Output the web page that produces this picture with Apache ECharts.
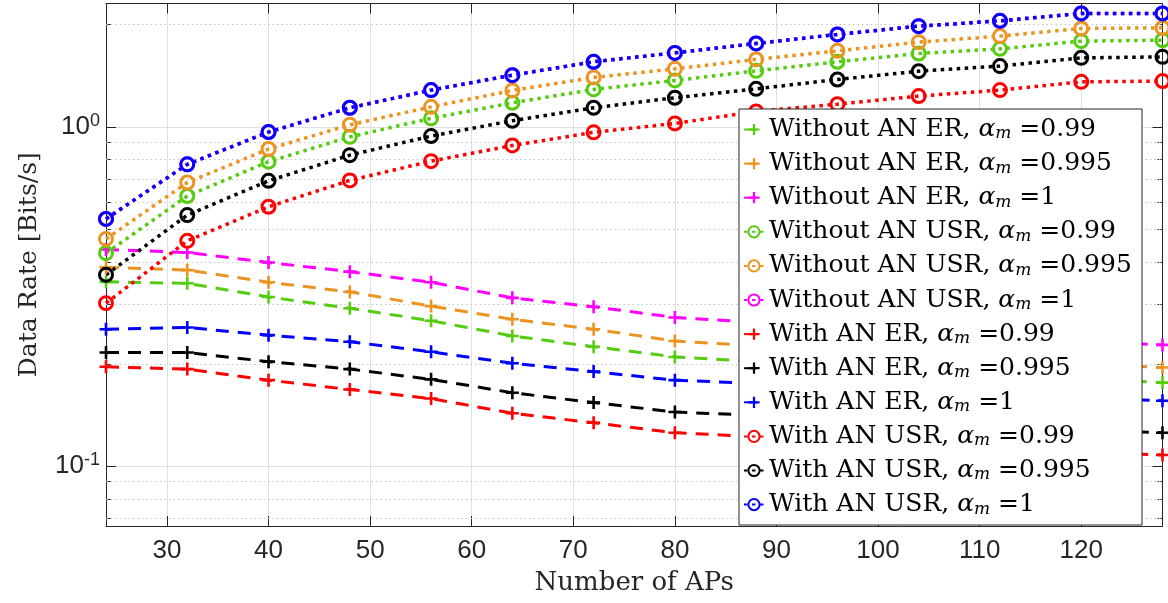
<!DOCTYPE html>
<html>
<head>
<meta charset="utf-8">
<script src="https://cdn.jsdelivr.net/npm/echarts@6/dist/echarts.min.js"></script>
<style>
html,body{margin:0;padding:0;background:#fff;}
#chart{width:1168px;height:603px;}
</style>
</head>
<body>
<div id="chart"></div>
<script>
// ---------------- data ----------------
const xAPs = [24, 32, 40, 48, 56, 64, 72, 80, 88, 96, 104, 112, 120, 128];
const xTicks = [30, 40, 50, 60, 70, 80, 90, 100, 110, 120];
const yMajorTicks = [0.1, 1];
const yMinorTicks = [0.07, 0.08, 0.09, 0.2, 0.3, 0.4, 0.5, 0.6, 0.7, 0.8, 0.9, 2];

// Without AN, ER
const woER_099  = [0.349, 0.3455, 0.315, 0.2917, 0.268, 0.2417, 0.2247, 0.2096, 0.203, 0.197, 0.191, 0.186, 0.181, 0.176];
const woER_0995 = [0.385, 0.378, 0.348, 0.326, 0.296, 0.2706, 0.253, 0.2335, 0.226, 0.219, 0.212, 0.206, 0.200, 0.195];
const woER_1    = [0.435, 0.426, 0.398, 0.374, 0.348, 0.313, 0.2947, 0.274, 0.265, 0.256, 0.248, 0.241, 0.234, 0.2274];
// Without AN, USR
const woUSR_099  = [0.424, 0.625, 0.789, 0.934, 1.059, 1.177, 1.289, 1.370, 1.462, 1.555, 1.645, 1.698, 1.789, 1.801];
const woUSR_0995 = [0.467, 0.685, 0.860, 1.014, 1.145, 1.280, 1.398, 1.482, 1.580, 1.675, 1.777, 1.851, 1.950, 1.958];
const woUSR_1    = [0.535, 0.775, 0.965, 1.138, 1.283, 1.420, 1.555, 1.652, 1.761, 1.872, 1.981, 2.053, 2.159, 2.159];
// With AN, ER
const wER_099  = [0.196, 0.193, 0.179, 0.168, 0.158, 0.143, 0.134, 0.1253, 0.122, 0.119, 0.116, 0.113, 0.110, 0.1077];
const wER_0995 = [0.216, 0.216, 0.203, 0.193, 0.180, 0.1644, 0.1537, 0.1442, 0.141, 0.137, 0.134, 0.131, 0.128, 0.1253];
const wER_1    = [0.253, 0.256, 0.243, 0.2324, 0.217, 0.2007, 0.1897, 0.179, 0.175, 0.171, 0.167, 0.163, 0.159, 0.1557];
// With AN, USR
const wUSR_099  = [0.302, 0.461, 0.581, 0.695, 0.792, 0.881, 0.963, 1.023, 1.110, 1.166, 1.232, 1.283, 1.357, 1.364];
const wUSR_0995 = [0.366, 0.549, 0.693, 0.825, 0.939, 1.042, 1.138, 1.218, 1.294, 1.379, 1.459, 1.510, 1.597, 1.608];
const wUSR_1    = [0.535, 0.775, 0.965, 1.138, 1.283, 1.420, 1.555, 1.652, 1.761, 1.872, 1.981, 2.053, 2.159, 2.159];

const seriesNames = [
  'Without AN ER, α_m =0.99', 'Without AN ER, α_m =0.995', 'Without AN ER, α_m =1',
  'Without AN USR, α_m =0.99', 'Without AN USR, α_m =0.995', 'Without AN USR, α_m =1',
  'With AN ER, α_m =0.99', 'With AN ER, α_m =0.995', 'With AN ER, α_m =1',
  'With AN USR, α_m =0.99', 'With AN USR, α_m =0.995', 'With AN USR, α_m =1'
];
const seriesValues = [woER_099, woER_0995, woER_1, woUSR_099, woUSR_0995, woUSR_1,
                      wER_099, wER_0995, wER_1, wUSR_099, wUSR_0995, wUSR_1];
const seriesKinds = ['ER','ER','ER','USR','USR','USR','ER','ER','ER','USR','USR','USR'];
// ---------------- style ----------------
const GREEN = '#55cc11', ORANGE = '#ec9422', MAGENTA = '#ff00ff', RED = '#ff0000', BLACK = '#000000', BLUE = '#0000ff';
const seriesColors = [GREEN, ORANGE, MAGENTA, GREEN, ORANGE, MAGENTA, RED, BLACK, BLUE, RED, BLACK, BLUE];
const PLUS = 'path://M4,0H6V4H10V6H6V10H4V6H0V4H4Z';
const AX = '#262626';

function makeSeries(i) {
  const c = seriesColors[i];
  const data = xAPs.map((x, k) => [x, seriesValues[i][k]]);
  const base = {
    name: seriesNames[i], type: 'line', data: data, color: c,
    xAxisIndex: 0, yAxisIndex: 0, showAllSymbol: true, animation: false, z: 2
  };
  if (seriesKinds[i] === 'ER') {
    return Object.assign(base, {
      symbol: PLUS, symbolSize: 13,
      itemStyle: { color: c, borderWidth: 0 },
      lineStyle: { color: c, width: 3, type: [13, 9] }
    });
  }
  return Object.assign(base, {
    symbol: 'circle', symbolSize: 13,
    itemStyle: { color: 'transparent', borderColor: c, borderWidth: 3 },
    lineStyle: { color: c, width: 3.5, type: [3.5, 4.5] }
  });
}

const series = seriesNames.map((n, i) => makeSeries(i));
series.unshift({
  name: 'minor-grid', type: 'line', data: [], xAxisIndex: 0, yAxisIndex: 0, silent: true, z: 1,
  markLine: {
    silent: true, symbol: 'none', z: 1, animation: false,
    label: { show: false },
    lineStyle: { color: '#c4c4c4', width: 1, type: [1.5, 3] },
    data: yMinorTicks.map(v => ({ yAxis: v }))
  }
});

const LEGEND_FONT = 'DejaVu Serif';
function legendFormatter(name) {
  const parts = name.split('α_m');
  return '{t|' + parts[0] + '}{a|α}{s|m}{t|' + parts[1] + '}';
}

const tickLine = { lineStyle: { color: AX, width: 1 } };

const option = {
  backgroundColor: '#ffffff',
  animation: false,
  grid: { left: 106, right: 5.5, top: 3.5, bottom: 77, containLabel: false, outerBoundsMode: 'none' },
  xAxis: [
    {
      type: 'value', min: 24, max: 128, position: 'bottom',
      axisLine: { show: true, onZero: false, lineStyle: { color: AX, width: 1 } },
      axisTick: Object.assign({ show: true, inside: true, length: 10, customValues: xTicks }, tickLine),
      axisLabel: { show: true, customValues: xTicks, fontSize: 26, fontFamily: 'Liberation Sans', color: AX, margin: 12 },
      splitLine: { show: true, lineStyle: { color: '#e0e0e0', width: 1 } },
      name: 'Number of APs', nameLocation: 'middle', nameGap: 44,
      nameTextStyle: { fontFamily: LEGEND_FONT, fontSize: 26, color: AX }
    },
    {
      type: 'value', min: 24, max: 128, position: 'top',
      axisLine: { show: true, onZero: false, lineStyle: { color: AX, width: 1 } },
      axisTick: Object.assign({ show: true, inside: true, length: 10, customValues: xTicks }, tickLine),
      axisLabel: { show: false }, splitLine: { show: false }
    }
  ],
  yAxis: [
    {
      type: 'log', logBase: 10, min: 0.0665, max: 2.31, position: 'left',
      axisLine: { show: true, onZero: false, lineStyle: { color: AX, width: 1 } },
      axisTick: Object.assign({ show: true, inside: true, length: 10, customValues: yMajorTicks }, tickLine),
      axisLabel: {
        show: true, customValues: yMajorTicks, margin: 6,
        formatter: function (v) { return '{b|10}{sup|' + Math.round(Math.log10(v)) + '}'; },
        rich: {
          b: { fontSize: 26, fontFamily: 'Liberation Sans', color: AX, lineHeight: 30 },
          sup: { fontSize: 18, fontFamily: 'Liberation Sans', color: AX, lineHeight: 18, verticalAlign: 'top' }
        }
      },
      splitLine: { show: true, lineStyle: { color: '#e0e0e0', width: 1 } },
      name: 'Data Rate [Bits/s]', nameLocation: 'middle', nameGap: 64, nameRotate: 90,
      nameTextStyle: { fontFamily: LEGEND_FONT, fontSize: 25, color: AX }
    },
    {
      type: 'log', logBase: 10, min: 0.0665, max: 2.31, position: 'right',
      axisLine: { show: true, onZero: false, lineStyle: { color: AX, width: 1 } },
      axisTick: Object.assign({ show: true, inside: true, length: 10, customValues: yMajorTicks }, tickLine),
      axisLabel: { show: false }, splitLine: { show: false }
    },
    {
      type: 'log', logBase: 10, min: 0.0665, max: 2.31, position: 'left',
      axisLine: { show: false },
      axisTick: Object.assign({ show: true, inside: true, length: 5, customValues: yMinorTicks }, tickLine),
      axisLabel: { show: false }, splitLine: { show: false }
    },
    {
      type: 'log', logBase: 10, min: 0.0665, max: 2.31, position: 'right',
      axisLine: { show: false },
      axisTick: Object.assign({ show: true, inside: true, length: 5, customValues: yMinorTicks }, tickLine),
      axisLabel: { show: false }, splitLine: { show: false }
    }
  ],
  graphic: [{
    type: 'rect', z: 3, silent: true,
    shape: { x: 739, y: 109, width: 403, height: 416 },
    style: { fill: '#ffffff', stroke: AX, lineWidth: 1 }
  }],
  legend: {
    show: true, orient: 'vertical', left: 743, top: 117, padding: 0,
    itemWidth: 20, itemHeight: 14, itemGap: 8.6, selectedMode: false, z: 4,
    data: seriesNames,
    formatter: legendFormatter,
    textStyle: {
      color: '#000', fontFamily: LEGEND_FONT, fontSize: 25,
      rich: {
        t: { fontFamily: LEGEND_FONT, fontSize: 25, lineHeight: 26, color: '#000' },
        a: { fontFamily: LEGEND_FONT, fontSize: 25, lineHeight: 26, fontStyle: 'italic', color: '#000' },
        s: { fontFamily: LEGEND_FONT, fontSize: 17, lineHeight: 14, fontStyle: 'italic', verticalAlign: 'bottom', color: '#000' }
      }
    }
  },
  series: series
};

const chart = echarts.init(document.getElementById('chart'), null, { renderer: 'canvas' });
chart.setOption(option);
</script>
</body>
</html>
